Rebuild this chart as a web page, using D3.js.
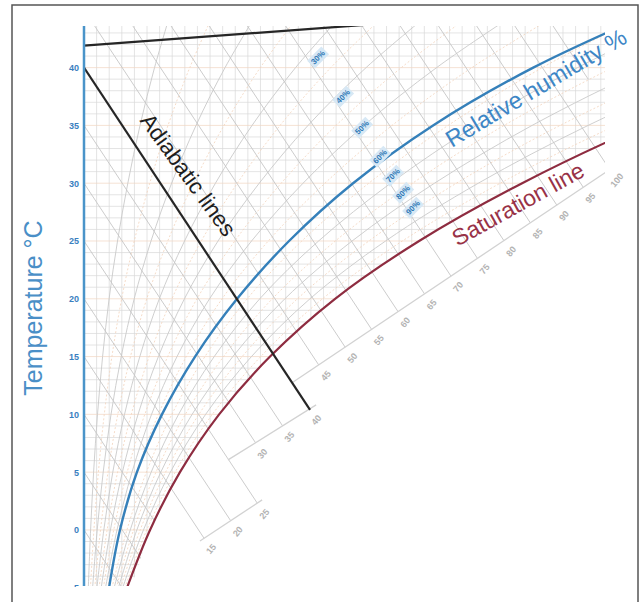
<!DOCTYPE html>
<html><head><meta charset="utf-8">
<script src="https://cdn.jsdelivr.net/npm/d3@7"></script>
<style>body{margin:0;background:#fff}svg{display:block}text{font-family:"Liberation Sans",Arial,sans-serif}</style>
</head><body><svg id="c" width="644" height="602"></svg>
<script>
// ---- data (humidity units on x, temperature °C on y) ----
const satT = [-5, 0, 5, 10, 15, 20, 25, 30, 35, 40, 45];
const satX = [2.56, 3.93, 5.71, 8.04, 11.07, 14.94, 19.94, 26.07, 33.33, 41.96, 52.08];
const rhCurveT = [-5, 0, 5, 10, 15, 20, 25, 30, 35, 40, 45];
const rhCurveX = [1.49, 2.14, 3.15, 4.64, 6.61, 9.11, 12.2, 16.01, 20.77, 26.73, 34.17];
const tempTicks = [-5, 0, 5, 10, 15, 20, 25, 30, 35, 40];
const rhLevels = [10, 20, 30, 40, 50, 70, 80, 90];
const rhLabels = ["30%", "40%", "50%", "60%", "70%", "80%", "90%"];
const rhLabelX = [13.93, 15.42, 16.55, 17.62, 18.39, 18.99, 19.58];
const rhLabelT = [40.87, 37.49, 34.81, 32.29, 30.65, 29.18, 27.88];
const enthalpyGrid = [-5, 0, 5, 10, 15, 20, 25, 30, 35, 40, 45, 50, 55, 60, 65, 70, 75, 80, 85, 90, 95, 100, 105, 110];
const enthalpyLow = [15, 20, 25];
const enthalpyMid = [30, 35, 40];
const enthalpyHigh = [45, 50, 55, 60, 65, 70, 75, 80, 85, 90, 95, 100];
const scaleLowSeg = [[6.9, -0.95], [10.6, 2.6]];
const scaleMidSeg = [[8.57, 6.06], [13.81, 10.82]];
const scaleHighSeg = [[12.38, 12.73], [31.3, 31.2]];
const adiabaticLine = [[0, 40], [13.45, 10.39]];
const topLine = [[0, 41.9], [16, 43.62]];
const enthalpySlope = -2.2;

// ---- scales ----
const x = d3.scaleLinear().domain([0, 31]).range([84, 605]);
const y = d3.scaleLinear().domain([-5, 43.6]).range([587.75, 26]);
const svg = d3.select('#c');
const defs = svg.append('defs');
defs.append('clipPath').attr('id', 'plot').append('rect')
  .attr('x', 84).attr('y', 26).attr('width', 521).attr('height', 560);
const satPts = satT.map((t, i) => [satX[i], t]);
const line = d3.line().x(d => x(d[0])).y(d => y(d[1]));
const curve = d3.line().x(d => x(d[0])).y(d => y(d[1])).curve(d3.curveCatmullRom.alpha(0.5));
const regionPts = [[0, 45]].concat(satPts.slice().reverse()).concat([[0, -6]]);
defs.append('clipPath').attr('id', 'region').append('path').attr('d', curve(regionPts) + 'Z');

// frame
svg.append('path').attr('d', 'M12,602V5H638V602').attr('fill', 'none').attr('stroke', '#555').attr('stroke-width', 1.5);

const plot = svg.append('g').attr('clip-path', 'url(#plot)');
const grid = plot.append('g').attr('clip-path', 'url(#region)');

// fine grid
grid.selectAll('.vg').data(d3.range(0.75, 31, 0.75)).join('line')
  .attr('x1', d => x(d)).attr('x2', d => x(d)).attr('y1', y(43.6)).attr('y2', y(-5))
  .attr('stroke', '#d9d9d9').attr('stroke-width', 0.7);
grid.selectAll('.hg').data(d3.range(-5, 44, 1)).join('line')
  .attr('x1', x(0)).attr('x2', x(31)).attr('y1', d => y(d)).attr('y2', d => y(d))
  .attr('stroke', d => (d % 5 === 0 ? '#f1d6c2' : '#d9d9d9')).attr('stroke-width', 0.7);

// faint RH curves
plot.selectAll('.rhc').data(rhLevels).join('path')
  .attr('d', p => curve(satPts.map(([sx, t]) => [sx * p / 100, t])))
  .attr('fill', 'none').attr('stroke', '#c9c9c9').attr('stroke-width', 0.9);
plot.selectAll('.rhh').data([15, 25, 35, 45, 55, 65, 75, 85, 95]).join('path')
  .attr('d', p => curve(satPts.map(([sx, t]) => [sx * p / 100, t])))
  .attr('fill', 'none').attr('stroke', '#f3d3bb').attr('stroke-width', 0.8).attr('stroke-dasharray', '2,2');

// enthalpy lines
function scaleEnd(h, seg) {
  const [[x1, t1], [x2, t2]] = seg;
  const m = (t2 - t1) / (x2 - x1);
  const xe = (t1 - m * x1 - h) / (enthalpySlope - m);
  return [xe, h + enthalpySlope * xe];
}
const scaleGroups = [[enthalpyLow, scaleLowSeg], [enthalpyMid, scaleMidSeg], [enthalpyHigh, scaleHighSeg]];
const ends = new Map();
scaleGroups.forEach(([vals, seg]) => vals.forEach(h => ends.set(h, [scaleEnd(h, seg), seg])));
enthalpyGrid.forEach(h => {
  const start = [0, h];
  if (ends.has(h)) {
    const e = ends.get(h)[0];
    plot.append('path').attr('d', line([start, e])).attr('stroke', '#c6c6c6').attr('stroke-width', 0.9).attr('fill', 'none');
  } else {
    grid.append('path').attr('d', line([start, [30, h + enthalpySlope * 30]])).attr('stroke', '#c6c6c6').attr('stroke-width', 0.9).attr('fill', 'none');
  }
});
// scale segments
[scaleLowSeg, scaleMidSeg, scaleHighSeg].forEach(seg => {
  plot.append('path').attr('d', line(seg)).attr('stroke', '#d2d2d2').attr('stroke-width', 1.3).attr('fill', 'none');
});
// scale labels
ends.forEach(([e, seg], h) => {
  const px = x(e[0]), py = y(e[1]);
  const dx = x(seg[1][0]) - x(seg[0][0]), dy = y(seg[1][1]) - y(seg[0][1]);
  const L = Math.hypot(dx, dy);
  const ox = -dy / L * 13, oy = dx / L * 13;
  svg.append('text').attr('transform', `translate(${px + ox},${py + oy}) rotate(-50)`)
    .attr('text-anchor', 'middle').attr('dominant-baseline', 'central')
    .attr('font-size', 9).attr('font-weight', 'bold').attr('fill', '#b3b3b3').text(h);
});

// main curves
plot.append('path').attr('d', curve(rhCurveT.map((t, i) => [rhCurveX[i], t])))
  .attr('fill', 'none').attr('stroke', '#3580ba').attr('stroke-width', 2.4);
plot.append('path').attr('d', curve(satPts))
  .attr('fill', 'none').attr('stroke', '#8e2c40').attr('stroke-width', 2.2);
plot.append('path').attr('d', line(adiabaticLine)).attr('stroke', '#262626').attr('stroke-width', 2.2).attr('fill', 'none');
plot.append('path').attr('d', line([topLine[0], [30, topLine[0][1] + (topLine[1][1] - topLine[0][1]) / topLine[1][0] * 30]]))
  .attr('stroke', '#262626').attr('stroke-width', 2.2).attr('fill', 'none');

// RH labels
rhLabels.forEach((lab, i) => {
  const g = svg.append('g').attr('transform', `translate(${x(rhLabelX[i])},${y(rhLabelT[i])}) rotate(-45)`);
  g.append('rect').attr('x', -10).attr('y', -5.5).attr('width', 20).attr('height', 11).attr('fill', '#d7e8f5');
  g.append('text').attr('text-anchor', 'middle').attr('dominant-baseline', 'central')
    .attr('font-size', 8).attr('font-weight', 'bold').attr('fill', '#2f78b5').text(lab);
});

// axis
svg.append('line').attr('x1', 84).attr('x2', 84).attr('y1', 26).attr('y2', 586).attr('stroke', '#4a94c9').attr('stroke-width', 2.5);
defs.append('clipPath').attr('id', 'axclip').append('rect').attr('x', -80).attr('y', 0).attr('width', 100).attr('height', 587);
const ax = svg.append('g').attr('transform', 'translate(84,0)').attr('clip-path', 'url(#axclip)');
ax.call(d3.axisLeft(y).tickValues(tempTicks).tickSize(0).tickPadding(5));
ax.select('.domain').remove();
ax.selectAll('text').attr('font-size', 9).attr('font-weight', 'bold').attr('fill', '#3a7fc0')
  .attr('font-family', '"Liberation Sans",Arial,sans-serif');

// titles
svg.append('text').attr('transform', 'translate(33,308) rotate(-90)').attr('text-anchor', 'middle')
  .attr('dominant-baseline', 'central').attr('font-size', 25).attr('fill', '#4a8fc7').text('Temperature °C');
svg.append('text').attr('transform', 'translate(188,175) rotate(54)').attr('text-anchor', 'middle')
  .attr('dominant-baseline', 'central').attr('font-size', 22.5).attr('fill', '#1e1e1e').text('Adiabatic lines');
svg.append('text').attr('transform', 'translate(536,88) rotate(-31)').attr('text-anchor', 'middle')
  .attr('dominant-baseline', 'central').attr('font-size', 23.5).attr('fill', '#3d86c6').text('Relative humidity %');
svg.append('text').attr('transform', 'translate(518,204) rotate(-29)').attr('text-anchor', 'middle')
  .attr('dominant-baseline', 'central').attr('font-size', 23).attr('fill', '#983247').text('Saturation line');
</script></body></html>
